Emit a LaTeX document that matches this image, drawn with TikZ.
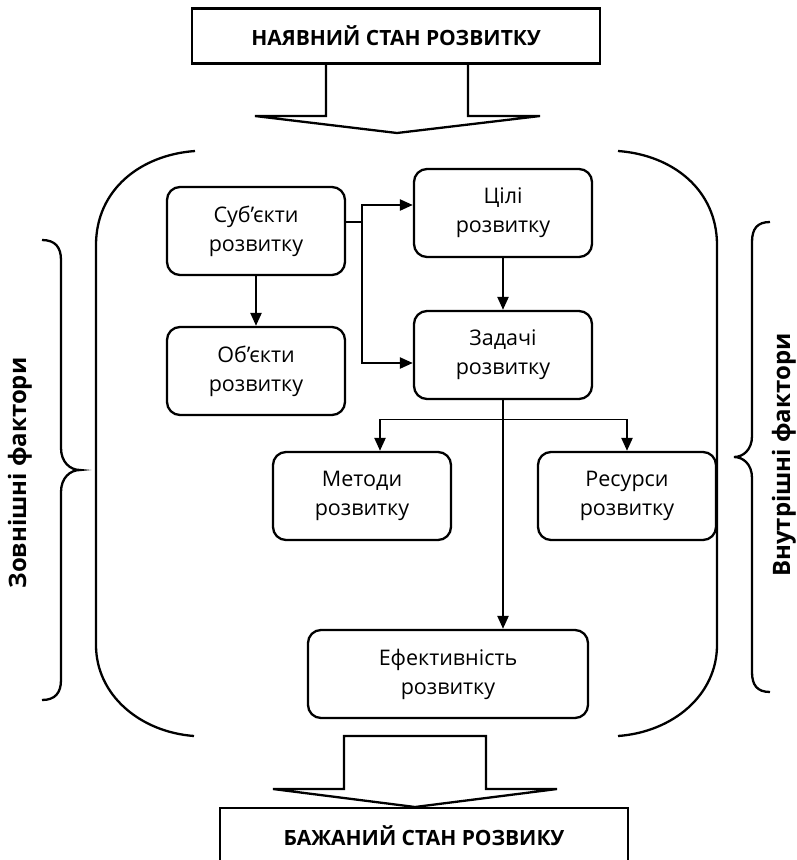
\documentclass[tikz,border=0pt]{standalone}
\usepackage{fontspec}
\setmainfont{Open Sans}
\usetikzlibrary{arrows.meta,calc}
\tikzset{
  box/.style={draw, line width=2.3pt, rounded corners=13pt, minimum width=178pt, minimum height=88pt, align=center, inner sep=0pt, font=\fontsize{21.5}{29}\selectfont},
  statebox/.style={draw, line width=2.3pt, minimum width=408pt, minimum height=55pt, inner sep=0pt, font=\fontsize{21}{26}\selectfont\bfseries},
  arr/.style={line width=2.3pt, -{Triangle[length=13pt,width=11pt]}},
  thinline/.style={line width=1.3pt},
  bracket/.style={line width=2.3pt},
  sidelabel/.style={rotate=90, font=\fontsize{24}{28}\selectfont\bfseries, inner sep=0pt}
}
\begin{document}
\begin{tikzpicture}[x=1pt,y=-1pt]
\useasboundingbox (0,0) rectangle (796,860);
% state boxes
\node[statebox] (top) at (396,36) {НАЯВНИЙ СТАН РОЗВИТКУ};
\node[statebox] (bot) at (424,835.5) {БАЖАНИЙ СТАН РОЗВИКУ};
% block arrows
\draw[bracket, line join=miter] (326,63) -- (326,116) -- (255,116) -- (397,133) -- (540,116) -- (468,116) -- (468,63);
\draw[bracket, line join=miter] (344,789) -- (344,736) -- (486,736) -- (486,789) -- (557,789) -- (415,807) -- (273,789) -- cycle;
% big brackets
\draw[bracket] (195,151) .. controls (140,155) and (96,190) .. (96,245) -- (96,645) .. controls (96,695) and (140,732) .. (194,736);
\draw[bracket] (618,151) .. controls (673,155) and (717,190) .. (717,245) -- (717,645) .. controls (717,695) and (673,732) .. (618,736);
% curly braces
\draw[bracket] (42,240) .. controls (55,240) and (61,247) .. (61,260) -- (61,448) .. controls (61,462) and (70,470) .. (80,470) .. controls (70,470) and (61,478) .. (61,492) -- (61,680) .. controls (61,693) and (55,700) .. (42,700);
\draw[bracket] (770,222) .. controls (757,222) and (752,229) .. (752,242) -- (752,436) .. controls (752,450) and (743,457) .. (734,457) .. controls (743,457) and (752,464) .. (752,478) -- (752,672) .. controls (752,685) and (757,692) .. (770,692);
\node[sidelabel] (ext) at (20,473) {Зовнішні фактори};
\node[sidelabel] (int) at (784,455) {Внутрішні фактори};
% process boxes
\node[box] (sub) at (256,231) {Суб’єкти\\розвитку};
\node[box] (obj) at (256,371) {Об’єкти\\розвитку};
\node[box] (cili) at (503,213) {Цілі\\розвитку};
\node[box] (zad) at (503,355) {Задачі\\розвитку};
\node[box] (met) at (362,496) {Методи\\розвитку};
\node[box] (res) at (627,496) {Ресурси\\розвитку};
\node[box, minimum width=280pt] (efe) at (448,674) {Ефективність\\розвитку};
% connectors
\coordinate (j) at (362,222);
\draw[thinline] ($(sub.east)+(0,-9)$) -- (j);
\draw[arr] (j) |- ($(cili.west)+(0,-8)$);
\draw[arr] (j) |- ($(zad.west)+(0,8)$);
\draw[arr] (sub) -- (obj);
\draw[arr] (cili) -- (zad);
\draw[arr] (zad.south) -- (zad.south |- efe.north);
\coordinate (b) at ($(zad.south)+(0,19)$);
\coordinate (bm) at ($(met.north)+(18,0)$);
\draw[thinline] (bm |- b) -- (res.north |- b);
\draw[arr] (bm |- b) -- (bm);
\draw[arr] (res.north |- b) -- (res.north);
\end{tikzpicture}
\end{document}
